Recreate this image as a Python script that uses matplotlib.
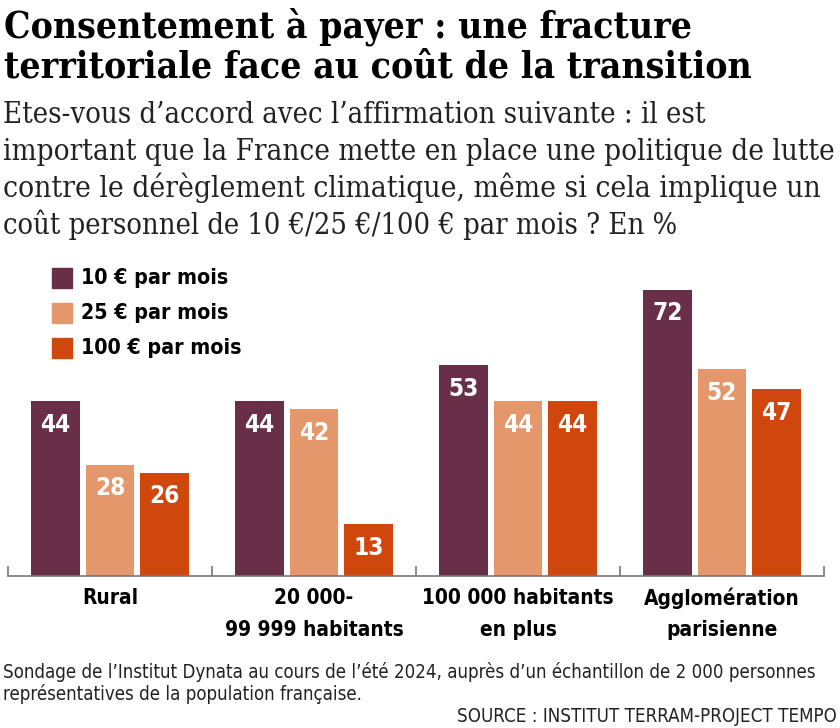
import matplotlib
matplotlib.use("Agg")
import matplotlib.pyplot as plt
import numpy as np

categories = ["Rural", "20 000-\n99 999 habitants", "100 000 habitants\nen plus", "Agglomération\nparisienne"]
series_names = ["10 € par mois", "25 € par mois", "100 € par mois"]
v10 = [44, 44, 53, 72]
v25 = [28, 42, 44, 52]
v100 = [26, 13, 44, 47]
colors = ["#6a2f48", "#e4976a", "#cf470c"]

title_lines = ["Consentement à payer : une fracture",
               "territoriale face au coût de la transition"]
subtitle_lines = ["Etes-vous d’accord avec l’affirmation suivante : il est",
                  "important que la France mette en place une politique de lutte",
                  "contre le dérèglement climatique, même si cela implique un",
                  "coût personnel de 10 €/25 €/100 € par mois ? En %"]
footnote_lines = ["Sondage de l’Institut Dynata au cours de l’été 2024, auprès d’un échantillon de 2 000 personnes",
                  "représentatives de la population française."]
source = "SOURCE : INSTITUT TERRAM-PROJECT TEMPO"

W, H = 840, 728
fig = plt.figure(figsize=(W / 100, H / 100), dpi=100)
fx = lambda px: px / W
fy = lambda py: 1 - py / H

SANS = dict(family=["DejaVu Sans"], stretch="condensed")
SERIF = dict(family=["DejaVu Serif"], stretch="condensed")

renderer = fig.canvas.get_renderer()

def fit_size(s, target_w, size=20, **kw):
    t = fig.text(0, 0, s, fontsize=size, **kw)
    w = t.get_window_extent(renderer).width
    t.remove()
    return size * target_w / w

# axes
ax = fig.add_axes([fx(8), fy(576), fx(824) - fx(8), (576 - 258) / H])
ax.set_xlim(-0.5, 3.5)
ax.set_ylim(0, 80)
x = np.arange(len(categories))
bw = 0.24
step = 0.267
for i, (vals, c) in enumerate(zip([v10, v25, v100], colors)):
    xs = x + (i - 1) * step
    ax.bar(xs, vals, width=bw, color=c, zorder=2)
    for xi, v in zip(xs, vals):
        ax.annotate(str(v), (xi, v), xytext=(0, -17), textcoords="offset points",
                    ha="center", va="center", color="white", fontsize=17.5,
                    fontweight="bold", **SANS)
for s in ["top", "right", "left"]:
    ax.spines[s].set_visible(False)
ax.spines["bottom"].set_color("#777777")
ax.spines["bottom"].set_linewidth(1.2)
ax.set_yticks([])
ax.set_xticks([-0.5, 0.5, 1.5, 2.5, 3.5])
ax.set_xticklabels([])
ax.tick_params(axis="x", direction="in", length=7, color="#777777", width=1.2)

# category labels (each line placed on its own row)
cat_size = fit_size("100 000 habitants", 192, fontweight="bold", **SANS)
for xi, cat in zip(x, categories):
    px = 8 + (xi + 0.5) * 204
    for j, line in enumerate(cat.split("\n")):
        fig.text(fx(px), fy(598 + j * 32), line, ha="center", va="center",
                 fontsize=cat_size, fontweight="bold", **SANS)

# legend
leg_size = fit_size("100 € par mois", 160, fontweight="bold", **SANS)
for i, (name, c) in enumerate(zip(series_names, colors)):
    cy = 278 + i * 35
    fig.patches.append(plt.Rectangle((fx(52), fy(cy + 10)), fx(20), 20 / H,
                                     transform=fig.transFigure, color=c))
    fig.text(fx(81), fy(cy), name, ha="left", va="center", fontsize=leg_size,
             fontweight="bold", **SANS)

# title / subtitle with width fitting
def fit_text(px, py, s, target_w, **kw):
    size = fit_size(s, target_w, **kw)
    return fig.text(fx(px), fy(py), s, ha="left", va="baseline", fontsize=size, **kw)

fit_text(4, 37, title_lines[0], 688, fontweight="bold", **SERIF)
fit_text(4, 78, title_lines[1], 746, fontweight="bold", **SERIF)
sub_targets = [700, 830, 816, 673]
for i, (s, tw) in enumerate(zip(subtitle_lines, sub_targets)):
    fit_text(3, 123 + i * 37, s, tw, color="#222222", **SERIF)

# footnote & source
fn_size = fit_size(footnote_lines[0], 815, **SANS)
fig.text(fx(3), fy(672), footnote_lines[0], ha="left", va="center", fontsize=fn_size, color="#222222", **SANS)
fig.text(fx(3), fy(694), footnote_lines[1], ha="left", va="center", fontsize=fn_size, color="#222222", **SANS)
fig.text(fx(837), fy(716), source, ha="right", va="center", fontsize=fn_size, color="#222222", **SANS)

fig.savefig("out.png", dpi=100, facecolor="white")
